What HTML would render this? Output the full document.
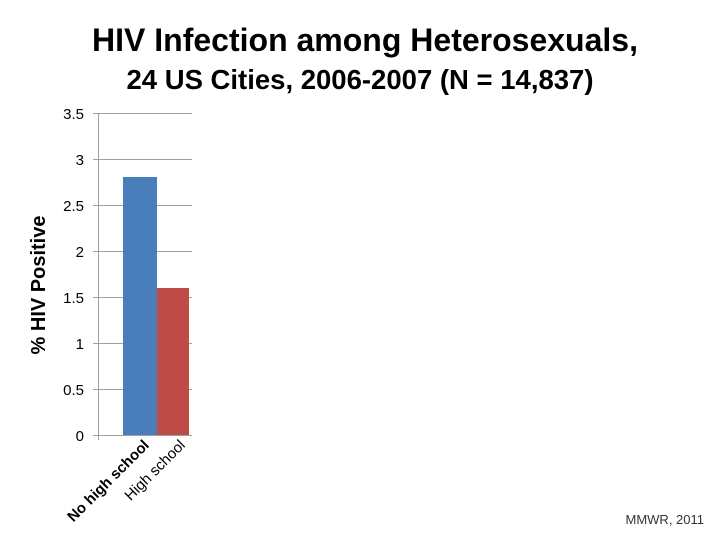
<!DOCTYPE html>
<html><head><style>
body{margin:0;width:720px;height:540px;background:#fff;overflow:hidden;font-family:"Liberation Sans",sans-serif}
</style></head><body>
<svg width="720" height="540" xmlns="http://www.w3.org/2000/svg" font-family="Liberation Sans, DejaVu Sans, sans-serif">
<text x="365" y="51" text-anchor="middle" font-size="32" font-weight="bold" fill="#000">HIV Infection among Heterosexuals,</text>
<text x="360" y="89" text-anchor="middle" font-size="27.5" font-weight="bold" fill="#000">24 US Cities, 2006-2007 (N = 14,837)</text>
<g stroke="#a0a0a0" stroke-width="1">
<line x1="93" y1="113.5" x2="192" y2="113.5"/>
<line x1="93" y1="159.5" x2="192" y2="159.5"/>
<line x1="93" y1="205.5" x2="192" y2="205.5"/>
<line x1="93" y1="251.5" x2="192" y2="251.5"/>
<line x1="93" y1="297.5" x2="192" y2="297.5"/>
<line x1="93" y1="343.5" x2="192" y2="343.5"/>
<line x1="93" y1="389.5" x2="192" y2="389.5"/>
<line x1="93" y1="435.5" x2="192" y2="435.5"/>
<line x1="98.5" y1="113" x2="98.5" y2="440"/>
</g>
<rect x="123" y="177" width="34" height="258" fill="#4a7ebb"/>
<rect x="157" y="288" width="32" height="147" fill="#be4b48"/>
<g font-size="15" fill="#000" text-anchor="end">
<text x="84" y="119">3.5</text>
<text x="84" y="165">3</text>
<text x="84" y="211">2.5</text>
<text x="84" y="257">2</text>
<text x="84" y="303">1.5</text>
<text x="84" y="349">1</text>
<text x="84" y="395">0.5</text>
<text x="84" y="441">0</text>
<text transform="translate(150,446) rotate(-45)" font-weight="bold">No high school</text>
<text transform="translate(186,446) rotate(-45)">High school</text>
</g>
<text transform="translate(45,285) rotate(-90)" text-anchor="middle" font-size="20" font-weight="bold">% HIV Positive</text>
<text x="704" y="524" text-anchor="end" font-size="13" fill="#333">MMWR, 2011</text>
</svg>
</body></html>
